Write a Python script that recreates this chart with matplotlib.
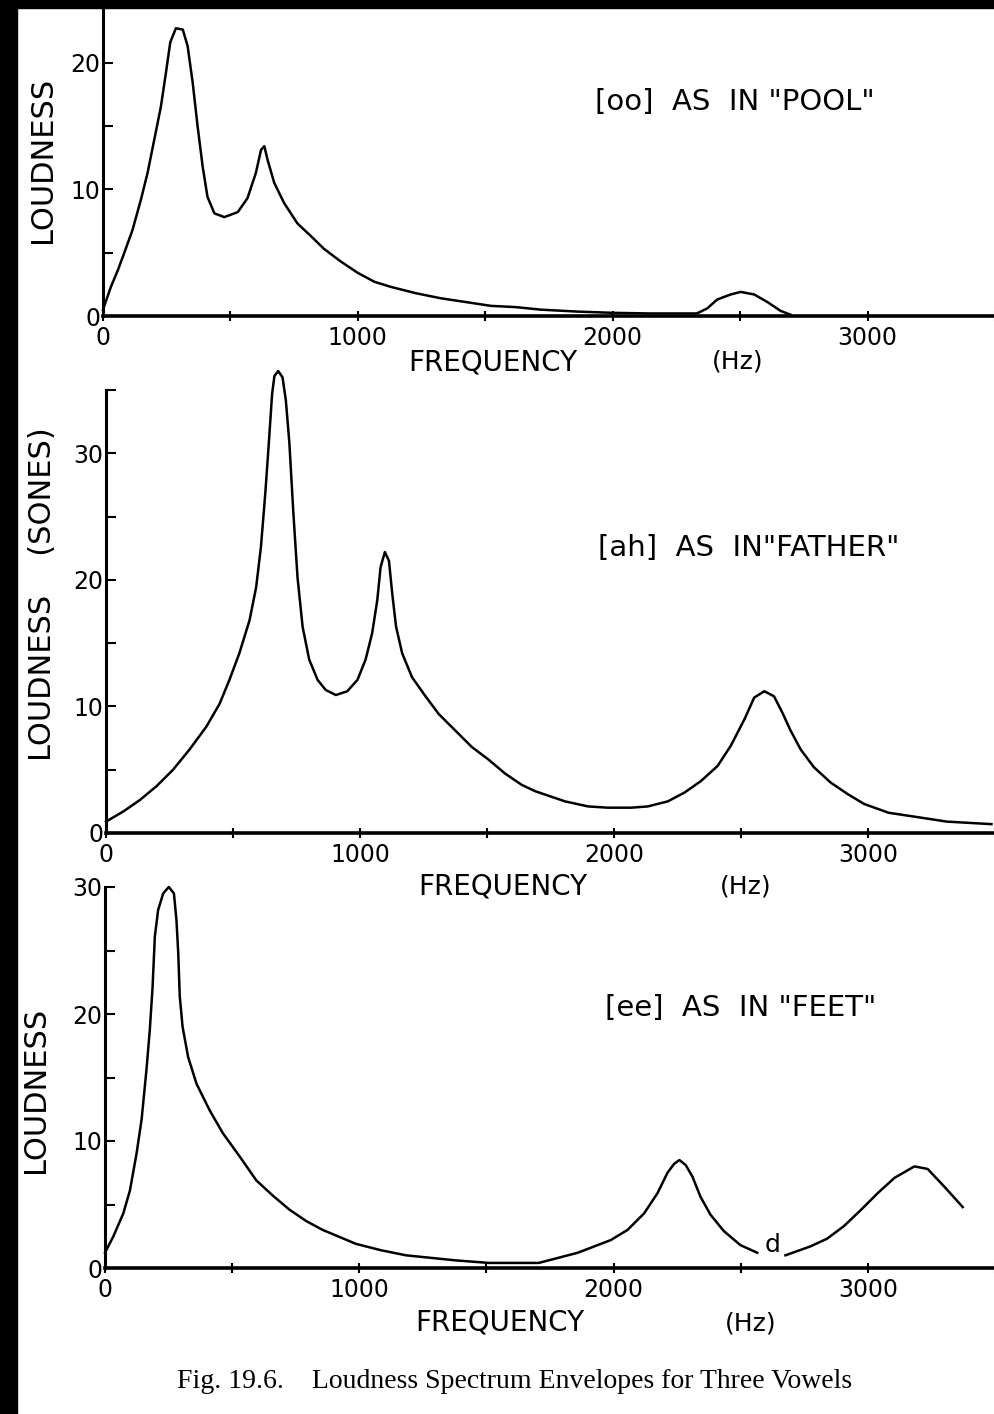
import matplotlib
matplotlib.use("Agg")
import matplotlib.pyplot as plt
from matplotlib.patches import Rectangle
from matplotlib.ticker import MultipleLocator

# [oo] as in "pool"
oo_freq = [0, 31, 58, 82, 116, 149, 175, 201, 227, 247, 264, 286, 313, 332, 352, 371, 391, 410,
           437, 476, 529, 567, 600, 620, 633, 646, 672, 711, 763, 816, 867, 933, 1000, 1065,
           1129, 1227, 1325, 1424, 1522, 1620, 1718, 1860, 2000, 2150, 2330, 2371, 2410, 2463,
           2502, 2555, 2607, 2659, 2698]
oo_loud = [0.5, 2.3, 3.6, 4.9, 6.8, 9.2, 11.3, 13.9, 16.5, 19.2, 21.6, 22.7, 22.6, 21.3, 18.4,
           15.0, 11.8, 9.4, 8.1, 7.8, 8.2, 9.3, 11.3, 13.1, 13.4, 12.3, 10.5, 8.9, 7.3, 6.3, 5.3,
           4.3, 3.4, 2.7, 2.3, 1.8, 1.4, 1.1, 0.8, 0.7, 0.5, 0.35, 0.25, 0.2, 0.2, 0.6, 1.3, 1.7,
           1.9, 1.7, 1.1, 0.4, 0.1]

# [ah] as in "father"
ah_freq = [0, 68, 133, 199, 264, 329, 395, 447, 486, 525, 565, 591, 610, 627, 641, 654, 663, 678,
           695, 708, 722, 737, 754, 774, 800, 833, 865, 905, 950, 990, 1022, 1048, 1068, 1081,
           1098, 1114, 1127, 1142, 1166, 1205, 1258, 1310, 1375, 1440, 1506, 1571, 1637, 1690,
           1807, 1898, 1976, 2068, 2133, 2212, 2278, 2342, 2408, 2460, 2514, 2552, 2592, 2630,
           2663, 2695, 2735, 2787, 2852, 2918, 2984, 3081, 3180, 3310, 3486]
ah_loud = [0.9, 1.7, 2.6, 3.7, 5.0, 6.6, 8.4, 10.2, 12.1, 14.2, 16.8, 19.4, 22.6, 26.8, 30.8,
           34.7, 36.1, 36.5, 36.0, 34.2, 30.8, 25.5, 20.2, 16.3, 13.7, 12.1, 11.3, 10.9, 11.2,
           12.1, 13.7, 15.8, 18.4, 21.0, 22.2, 21.5, 18.9, 16.3, 14.2, 12.3, 10.8, 9.4, 8.1, 6.8,
           5.8, 4.7, 3.8, 3.3, 2.5, 2.1, 2.0, 2.0, 2.1, 2.5, 3.2, 4.1, 5.3, 6.9, 9.0, 10.7, 11.2,
           10.8, 9.5, 8.1, 6.6, 5.2, 4.0, 3.1, 2.3, 1.6, 1.3, 0.9, 0.7]

# [ee] as in "feet" (two pieces, broken by the "d" mark)
ee_freq_a = [0, 33, 72, 98, 124, 144, 163, 176, 187, 196, 209, 229, 251, 271, 281, 288, 294, 305,
             327, 360, 412, 464, 529, 595, 660, 725, 791, 856, 987, 1085, 1183, 1379, 1510, 1706,
             1859, 1989, 2055, 2120, 2173, 2212, 2238, 2259, 2284, 2310, 2342, 2381, 2434, 2499,
             2565]
ee_loud_a = [1.2, 2.5, 4.3, 6.1, 9.0, 11.7, 15.6, 18.7, 22.1, 26.1, 28.2, 29.5, 30.0, 29.5, 27.4,
             24.8, 21.4, 19.0, 16.6, 14.5, 12.4, 10.6, 8.8, 6.9, 5.7, 4.6, 3.7, 3.0, 1.9, 1.4, 1.0,
             0.6, 0.4, 0.4, 1.2, 2.2, 3.0, 4.3, 5.9, 7.5, 8.2, 8.5, 8.1, 7.2, 5.6, 4.2, 2.9, 1.8,
             1.2]
ee_freq_b = [2676, 2774, 2839, 2906, 2974, 3039, 3105, 3183, 3235, 3301, 3373]
ee_loud_b = [1.0, 1.7, 2.3, 3.3, 4.6, 5.9, 7.1, 8.0, 7.8, 6.4, 4.8]

x_ticks = [0, 1000, 2000, 3000]
x_labels = ["0", "1000", "2000", "3000"]

W, H = 995, 1414
fig = plt.figure(figsize=(W / 100, H / 100), dpi=100)
fig.patch.set_facecolor("white")


def px_axes(left, top, bottom):
    # axes from pixel edges, right edge at figure border
    return fig.add_axes([left / W, 1 - bottom / H, (W - left) / W, (bottom - top) / H])


def style(ax, ymax, ymajor):
    ax.set_xlim(0, 3500)
    ax.set_ylim(0, ymax)
    for s in ["top", "right"]:
        ax.spines[s].set_visible(False)
    ax.spines["left"].set_linewidth(2.2)
    ax.spines["bottom"].set_linewidth(2.6)
    ax.set_xticks(x_ticks)
    ax.set_xticklabels(x_labels)
    ax.xaxis.set_minor_locator(MultipleLocator(500))
    ax.set_yticks(ymajor)
    ax.yaxis.set_minor_locator(MultipleLocator(5))
    ax.tick_params(axis="x", which="both", direction="inout", length=7, width=1.5,
                   labelsize=17, pad=4)
    ax.tick_params(axis="y", which="both", direction="in", length=7, width=1.5,
                   labelsize=17, pad=2)
    ax.patch.set_alpha(0)


lw = 1.8
txt = dict(fontsize=21, color="black")

# panel 1
ax1 = px_axes(103, 8, 316)
style(ax1, 24.3, [0, 10, 20])
ax1.plot(oo_freq, oo_loud, color="black", lw=lw, clip_on=False)
fig.text(595 / W, 1 - 102 / H, '[oo]  AS  IN "POOL"', ha="left", va="center", **txt)
fig.text(43 / W, 1 - 160 / H, "LOUDNESS", rotation=90, ha="center", va="center", fontsize=22)
fig.text(408 / W, 1 - 362 / H, "FREQUENCY", ha="left", va="center", fontsize=20)
fig.text(712 / W, 1 - 362 / H, "(Hz)", ha="left", va="center", fontsize=18)

# panel 2
ax2 = px_axes(106, 390, 833)
style(ax2, 35, [0, 10, 20, 30])
ax2.plot(ah_freq, ah_loud, color="black", lw=lw, clip_on=False)
fig.text(598 / W, 1 - 548 / H, '[ah]  AS  IN"FATHER"', ha="left", va="center", **txt)
fig.text(43 / W, 1 - 594 / H, "LOUDNESS    (SONES)", rotation=90, ha="center", va="center",
         fontsize=22)
fig.text(418 / W, 1 - 886 / H, "FREQUENCY", ha="left", va="center", fontsize=20)
fig.text(720 / W, 1 - 887 / H, "(Hz)", ha="left", va="center", fontsize=18)

# panel 3
ax3 = px_axes(105, 887, 1268)
style(ax3, 30, [0, 10, 20, 30])
ax3.plot(ee_freq_a, ee_loud_a, color="black", lw=lw, clip_on=False)
ax3.plot(ee_freq_b, ee_loud_b, color="black", lw=lw, clip_on=False)
ax3.text(2627, 1.8, "d", ha="center", va="center", fontsize=18)
fig.text(605 / W, 1 - 1008 / H, '[ee]  AS  IN "FEET"', ha="left", va="center", **txt)
fig.text(36 / W, 1 - 1090 / H, "LOUDNESS", rotation=90, ha="center", va="center", fontsize=22)
fig.text(415 / W, 1 - 1322 / H, "FREQUENCY", ha="left", va="center", fontsize=20)
fig.text(725 / W, 1 - 1323 / H, "(Hz)", ha="left", va="center", fontsize=18)

# caption
fig.text(515 / W, 1 - 1381 / H, "Fig. 19.6.    Loudness Spectrum Envelopes for Three Vowels",
         ha="center", va="center", fontsize=20, family="Liberation Serif")

# black scan border
fig.patches.append(Rectangle((0, 0), 17 / W, 1, transform=fig.transFigure,
                             color="black", zorder=10))
fig.patches.append(Rectangle((0, 1 - 8 / H), 1, 8 / H, transform=fig.transFigure,
                             color="black", zorder=10))

fig.savefig("out.png", dpi=100, facecolor="white")
